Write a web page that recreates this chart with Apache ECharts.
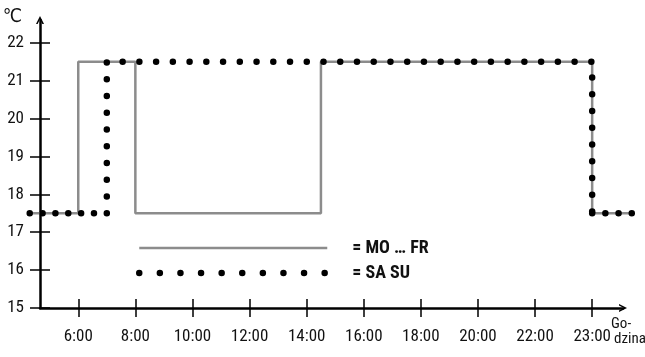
<!DOCTYPE html>
<html>
<head>
<meta charset="utf-8">
<script src="https://cdn.jsdelivr.net/npm/echarts@6/dist/echarts.min.js"></script>
<style>
  html, body { margin: 0; padding: 0; background: #fff; }
  #chart { width: 645px; height: 357px; }
</style>
</head>
<body>
<div id="chart"></div>
<script>
// tick labels on the time axis (spaced evenly, even the last one-hour step)
const tickHours = [6, 8, 10, 12, 14, 16, 18, 20, 22, 23];
const tickLabels = ['6:00', '8:00', '10:00', '12:00', '14:00', '16:00', '18:00', '20:00', '22:00', '23:00'];
const tempTicks = [15, 16, 17, 18, 19, 20, 21, 22];

// MO ... FR program: change points, drawn as a step line
const moFrHours = [4.3, 6, 8, 14.5, 23, 23.7];
const moFrTemps = [17.5, 21.5, 17.5, 21.5, 17.5, 17.5];

// SA SU program
const saSuHours = [4.3, 7, 7, 23, 23, 23.7];
const saSuTemps = [17.5, 17.5, 21.5, 21.5, 17.5, 17.5];

const FONT = "'Roboto Condensed', 'DejaVu Sans Condensed', sans-serif";
const GRAY = '#8c8c8c';
const INK = '#111';
const ARROW = 'path://M0,10 L5,0 L10,10 L8,10 L5,4 L2,10 Z';

// hour -> axis position: every tick gets one slot, y axis sits 0.67 slot before 6:00
function slot(h) {
  let i = 0;
  while (i < tickHours.length - 2 && h > tickHours[i + 1]) i++;
  const h0 = tickHours[i], h1 = tickHours[i + 1];
  return i + (h - h0) / (h1 - h0) + 0.67;
}
const tickValues = tickHours.map(slot);

function pairs(hours, temps) {
  return hours.map((h, i) => [slot(h), temps[i]]);
}

// the lines run a little past both axes, so they live in a wider grid
// that shares the same scale as the visible axes
const AX_LEFT = 40, AX_RIGHT = 22, AX_MAX = 10.21;
const PX = (645 - AX_LEFT - AX_RIGHT) / AX_MAX;
const dataMin = slot(Math.min(...moFrHours, ...saSuHours));
const dataMax = slot(Math.max(...moFrHours, ...saSuHours));

function dotted(data, gap) {
  return {
    name: 'SA SU',
    type: 'line',
    xAxisIndex: 2,
    yAxisIndex: 2,
    data: data,
    symbol: 'none',
    clip: false,
    z: 3,
    itemStyle: { color: '#000' },
    lineStyle: { color: '#000', width: 6.5, type: [0, gap], cap: 'round' }
  };
}

const saSu = pairs(saSuHours, saSuTemps);

const chart = echarts.init(document.getElementById('chart'));
chart.setOption({
  animation: false,
  grid: [
    { left: AX_LEFT, right: AX_RIGHT, top: 20, bottom: 49, outerBoundsMode: 'none' },
    { left: AX_LEFT + dataMin * PX, right: AX_RIGHT - (dataMax - AX_MAX) * PX, top: 20, bottom: 49, outerBoundsMode: 'none' }
  ],
  legend: {
    left: 136,
    top: 239,
    orient: 'vertical',
    itemWidth: 188,
    itemHeight: 22,
    itemGap: 7,
    padding: 0,
    selectedMode: false,
    formatter: '= {name}',
    itemStyle: { opacity: 0 },
    textStyle: { fontFamily: FONT, fontWeight: 'bold', fontSize: 18, color: INK, padding: [0, 0, 0, 20] },
    data: [
      { name: 'MO … FR', lineStyle: { width: 2.5 } },
      { name: 'SA SU', lineStyle: { width: 6.5, type: [0, 20.6], cap: 'round' } }
    ]
  },
  xAxis: [{
    type: 'value',
    gridIndex: 0,
    position: 'bottom',
    min: 0,
    max: AX_MAX,
    name: '{a|Go-}\n{b|dzina}',
    nameLocation: 'end',
    nameGap: -12,
    nameMoveOverlap: false,
    nameTextStyle: {
      align: 'left',
      verticalAlign: 'top',
      padding: [9, 0, 0, 0],
      rich: {
        a: { fontFamily: FONT, fontSize: 15, lineHeight: 15, color: INK },
        b: { fontFamily: FONT, fontSize: 15, lineHeight: 15, color: INK, padding: [0, 0, 0, 3] }
      }
    },
    axisLine: { onZero: false, symbol: ['none', ARROW], symbolSize: [10, 8], lineStyle: { color: '#000', width: 2.5 } },
    axisTick: { customValues: tickValues, length: 9, lineStyle: { color: '#000', width: 1.5 } },
    axisLabel: {
      customValues: tickValues,
      formatter: v => tickLabels[tickValues.findIndex(t => Math.abs(t - v) < 1e-6)],
      margin: 20,
      fontFamily: FONT,
      fontSize: 17,
      color: INK
    },
    splitLine: { show: false }
  }, {
    type: 'value',
    gridIndex: 0,
    position: 'bottom',
    min: 0,
    max: AX_MAX,
    axisLine: { show: false, onZero: false },
    axisTick: { customValues: tickValues, inside: true, length: 9, lineStyle: { color: '#000', width: 1.5 } },
    axisLabel: { show: false },
    splitLine: { show: false }
  }, {
    type: 'value',
    gridIndex: 1,
    show: false,
    min: dataMin,
    max: dataMax
  }],
  yAxis: [{
    type: 'value',
    gridIndex: 0,
    position: 'left',
    min: 15,
    max: 22.6,
    name: '℃',
    nameLocation: 'end',
    nameGap: 3,
    nameMoveOverlap: false,
    nameTextStyle: { fontFamily: FONT, fontSize: 19, color: INK, align: 'right', verticalAlign: 'middle', padding: [0, 18, 0, 0] },
    axisLine: { show: true, onZero: false, symbol: ['none', ARROW], symbolSize: [10, 8], lineStyle: { color: '#000', width: 2.5 } },
    axisTick: { show: true, customValues: tempTicks, length: 10, lineStyle: { color: '#000', width: 1.5 } },
    axisLabel: { customValues: tempTicks, margin: 16, fontFamily: FONT, fontSize: 17, color: INK },
    splitLine: { show: false }
  }, {
    type: 'value',
    gridIndex: 0,
    position: 'left',
    min: 15,
    max: 22.6,
    axisLine: { show: false, onZero: false },
    axisTick: { show: true, customValues: tempTicks, inside: true, length: 10, lineStyle: { color: '#000', width: 1.5 } },
    axisLabel: { show: false },
    splitLine: { show: false }
  }, {
    type: 'value',
    gridIndex: 1,
    show: false,
    min: 15,
    max: 22.6
  }],
  series: [
    {
      name: 'MO … FR',
      type: 'line',
      xAxisIndex: 2,
      yAxisIndex: 2,
      step: 'end',
      data: pairs(moFrHours, moFrTemps),
      symbol: 'none',
      clip: false,
      z: 2,
      itemStyle: { color: GRAY },
      lineStyle: { color: GRAY, width: 2.5 }
    },
    dotted(saSu.slice(1, 5), 16.74),
    dotted(saSu.slice(0, 2), 12.85),
    dotted(saSu.slice(4, 6), 13.2)
  ]
});
</script>
</body>
</html>
